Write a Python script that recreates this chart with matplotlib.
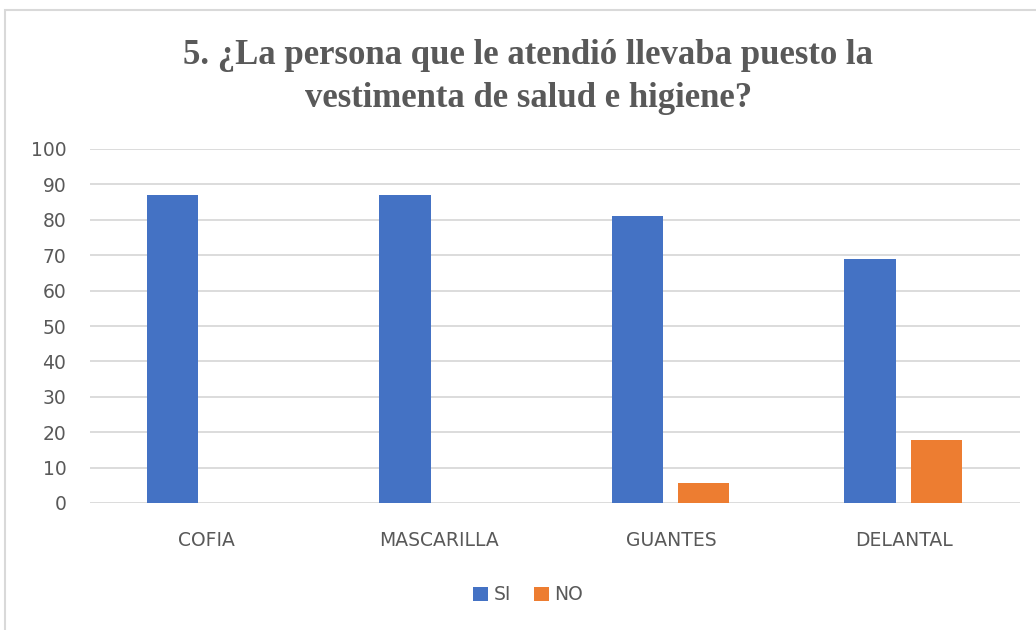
import matplotlib.pyplot as plt
import numpy as np
from matplotlib.patches import Rectangle

categories = ['COFIA', 'MASCARILLA', 'GUANTES', 'DELANTAL']
si_values = [87, 87, 81, 69]
no_values = [0, 0, 5.6, 17.8]
series_names = ['SI', 'NO']

blue = '#4472C4'
orange = '#ED7D31'
grey_text = '#595959'

fig = plt.figure(figsize=(10.36, 6.3), dpi=100)
ax = fig.add_axes([90 / 1036, 1 - 503 / 630, 930 / 1036, 354 / 630])

# outer chart frame
fig.patches.append(Rectangle((5 / 1036, -0.1), 1.2, (630 - 10) / 630 + 0.1,
                             transform=fig.transFigure, fill=False,
                             edgecolor='#D9D9D9', lw=1.5))

x = np.arange(len(categories))
w = 0.22
ax.bar(x - 0.145, si_values, w, color=blue, label=series_names[0], zorder=3)
ax.bar(x + 0.14, no_values, w, color=orange, label=series_names[1], zorder=3)

ax.set_xlim(-0.5, len(categories) - 0.5)
ax.set_ylim(0, 100)
ax.set_yticks(range(0, 101, 10))
ax.set_xticks(x)
ax.set_xticklabels(categories)
ax.grid(axis='y', color='#D9D9D9', lw=1.3, zorder=0)
for s in ax.spines.values():
    s.set_visible(False)
ax.tick_params(length=0, colors=grey_text, labelsize=13.5)
ax.tick_params(axis='x', pad=20)
ax.tick_params(axis='y', pad=17)

fig.text(0.51, 0.878, '5. ¿La persona que le atendió llevaba puesto la\nvestimenta de salud e higiene?',
         ha='center', va='center', family='Liberation Serif', weight='bold',
         fontsize=25, color=grey_text, linespacing=1.4)

fig.legend(loc='center', bbox_to_anchor=(0.51, 1 - 595 / 630), ncol=2, frameon=False,
           handlelength=0.8, handleheight=0.8, handletextpad=0.3, columnspacing=1.2,
           labelcolor=grey_text, fontsize=13.5)

plt.savefig('out.png', dpi=100)
